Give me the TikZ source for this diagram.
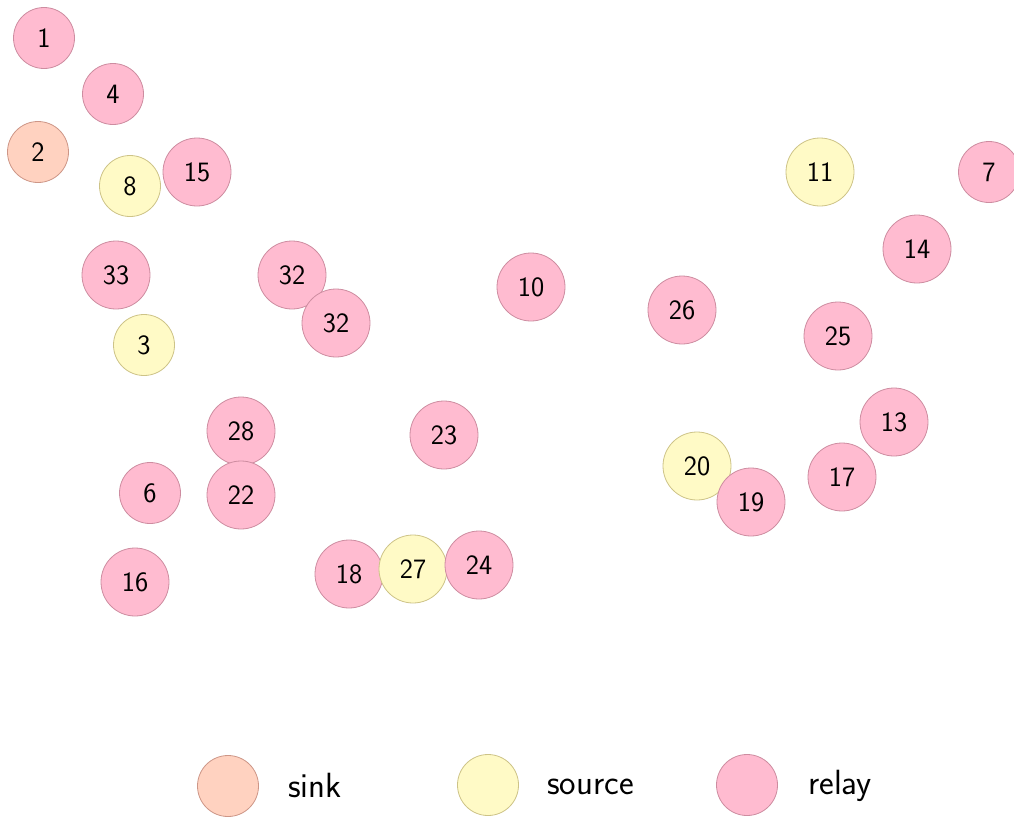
\documentclass[tikz,border=0pt]{standalone}
\usepackage{fontspec}
\definecolor{relayfill}{RGB}{255,187,208}
\definecolor{relaydraw}{RGB}{205,140,160}
\definecolor{sourcefill}{RGB}{255,250,198}
\definecolor{sourcedraw}{RGB}{205,195,135}
\definecolor{sinkfill}{RGB}{255,210,192}
\definecolor{sinkdraw}{RGB}{205,150,135}
\begin{document}
\begin{tikzpicture}[x=1pt,y=-1pt,
  font=\fontsize{28}{30}\selectfont\sffamily,
  base/.style={circle, inner sep=0pt, line width=0.8pt, minimum size=68pt},
  small/.style={minimum size=61pt},
  relay/.style={base, fill=relayfill, draw=relaydraw},
  source/.style={base, fill=sourcefill, draw=sourcedraw},
  sink/.style={base, fill=sinkfill, draw=sinkdraw},
  legtext/.style={anchor=base west, inner sep=0pt, font=\fontsize{35}{38}\selectfont\sffamily}]
\useasboundingbox (0,0) rectangle (1014,819);
\node[relay,small] (n1) at (44,38) {1};
\node[relay,small] (n4) at (113,94) {4};
\node[sink,small] (n2) at (38,152) {2};
\node[source,small] (n8) at (130,186) {8};
\node[relay] (n15) at (197,172) {15};
\node[source] (n11) at (820,172) {11};
\node[relay,small] (n7) at (989,172) {7};
\node[relay] (n14) at (917,249) {14};
\node[relay] (n33) at (116,275) {33};
\node[relay] (n32a) at (292,275) {32};
\node[relay] (n32b) at (336,323) {32};
\node[relay] (n10) at (531,287) {10};
\node[relay] (n26) at (682,310) {26};
\node[relay] (n25) at (838,336) {25};
\node[source,small] (n3) at (144,345) {3};
\node[relay] (n28) at (241,431) {28};
\node[relay] (n23) at (444,435) {23};
\node[relay] (n13) at (894,422) {13};
\node[source] (n20) at (697,466) {20};
\node[relay] (n17) at (842,477) {17};
\node[relay,small] (n6) at (150,493) {6};
\node[relay] (n22) at (241,495) {22};
\node[relay] (n19) at (751,502) {19};
\node[relay] (n16) at (135,582) {16};
\node[relay] (n18) at (349,574) {18};
\node[source] (n27) at (413,569) {27};
\node[relay] (n24) at (479,565) {24};
% legend
\node[sink,small] (lsink) at (228,786) {};
\node[legtext] (tsink) at (288,797) {sink};
\node[source,small] (lsource) at (488,785) {};
\node[legtext] (tsource) at (547,794) {source};
\node[relay,small] (lrelay) at (747,785) {};
\node[legtext] (trelay) at (808,794) {relay};
\end{tikzpicture}
\end{document}
